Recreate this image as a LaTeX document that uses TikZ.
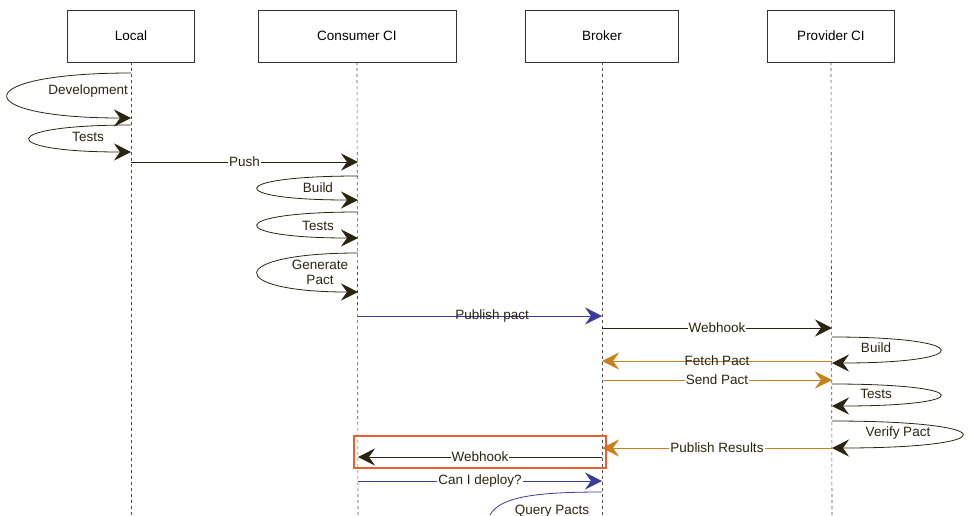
\documentclass[tikz,border=0pt]{standalone}
\usepackage{fontspec}
\setmainfont{Liberation Sans}
\usetikzlibrary{arrows.meta}
\definecolor{dk}{HTML}{2A2410}
\definecolor{bl}{HTML}{3B3B9A}
\definecolor{og}{HTML}{C8801A}
\definecolor{rd}{HTML}{E8602C}
\begin{document}
\begin{tikzpicture}[x=1pt,y=-1pt,font=\fontsize{13.5}{15}\selectfont,
  actor/.style={draw=black!80,fill=white,minimum height=52pt,inner sep=0},
  life/.style={draw=black!70,dashed,dash pattern=on 3pt off 3pt,line width=0.6pt},
  msg/.style={line width=0.8pt,-{Stealth[length=17pt,width=17pt,inset=6pt]}},
  lbl/.style={fill=white,inner sep=1pt,text=dk},
  lblt/.style={inner sep=1pt,text=dk,align=center}]
\useasboundingbox (0,0) rectangle (975,515);
\node[actor,minimum width=127pt] (local) at (131,36) {Local};
\node[actor,minimum width=198pt] (cons) at (357,36) {Consumer CI};
\node[actor,minimum width=153pt] (brok) at (602,36) {Broker};
\node[actor,minimum width=127pt] (prov) at (831,36) {Provider CI};
\foreach \n/\x in {local/131,cons/358,brok/602,prov/832}
  \draw[life] (\n.south) -- (\x,515);
\newcommand{\selfloop}[5]{%
  \draw[msg,#5] (#1,#2) .. controls ({#1+(#4-#1)/0.75},#2) and ({#1+(#4-#1)/0.75},#3) .. (#1,#3);}
\selfloop{131}{73}{118}{8}{dk}
\node[lblt,anchor=east] (dev) at (129,91) {Development};
\selfloop{131}{125}{152}{30}{dk}
\node[lblt] (t1) at (88,137) {Tests};
\coordinate (pa) at (131,162); \coordinate (pb) at (358,162);
\draw[msg,dk] (pa) -- node[lbl] (push) {Push} (pb);
\selfloop{358}{176}{200}{258}{dk}
\node[lblt] (b1) at (318,188) {Build};
\selfloop{358}{212}{238}{258}{dk}
\node[lblt] (t2) at (318,226) {Tests};
\selfloop{358}{253}{292}{258}{dk}
\node[lblt] (gen) at (320,272) {Generate\\Pact};
\coordinate (c1) at (358,316); \coordinate (b2) at (602,316);
\draw[msg,bl] (c1) -- node[lblt,pos=0.55] (pp) {Publish pact} (b2);
\coordinate (b3) at (602,328); \coordinate (p3) at (832,328);
\draw[msg,dk] (b3) -- node[lbl] (wh1) {Webhook} (p3);
\selfloop{832}{337}{363}{940}{dk}
\node[lblt] (b4) at (876,348) {Build};
\coordinate (p5) at (832,361); \coordinate (b5) at (602,361);
\draw[msg,og] (p5) -- node[lblt] (fp) {Fetch Pact} (b5);
\coordinate (b6) at (602,380); \coordinate (p6) at (832,380);
\draw[msg,og] (b6) -- node[lbl] (sp) {Send Pact} (p6);
\selfloop{832}{384}{406}{940}{dk}
\node[lblt] (t3) at (876,394) {Tests};
\selfloop{832}{421}{448}{962}{dk}
\node[lblt] (vp) at (898,433) {Verify Pact};
\coordinate (p7) at (832,448); \coordinate (b7) at (602,448);
\draw[msg,og] (p7) -- node[lbl] (pr) {Publish Results} (b7);
\coordinate (b8) at (602,457); \coordinate (c8) at (358,457);
\draw[msg,dk] (b8) -- node[lbl] (wh2) {Webhook} (c8);
\node[draw=rd,line width=2pt,minimum width=252pt,minimum height=32pt,inner sep=0] (hl) at (480,452) {};
\coordinate (c9) at (358,481); \coordinate (b9) at (602,481);
\draw[msg,bl] (c9) -- node[lbl] (cid) {Can I deploy?} (b9);
\coordinate (b10) at (602,492);
\draw[line width=0.8pt,bl] (b10) .. controls (540,492) and (500,496) .. (490,515);
\node[lblt] (qp) at (552,511) {Query Pacts};
\end{tikzpicture}
\end{document}
